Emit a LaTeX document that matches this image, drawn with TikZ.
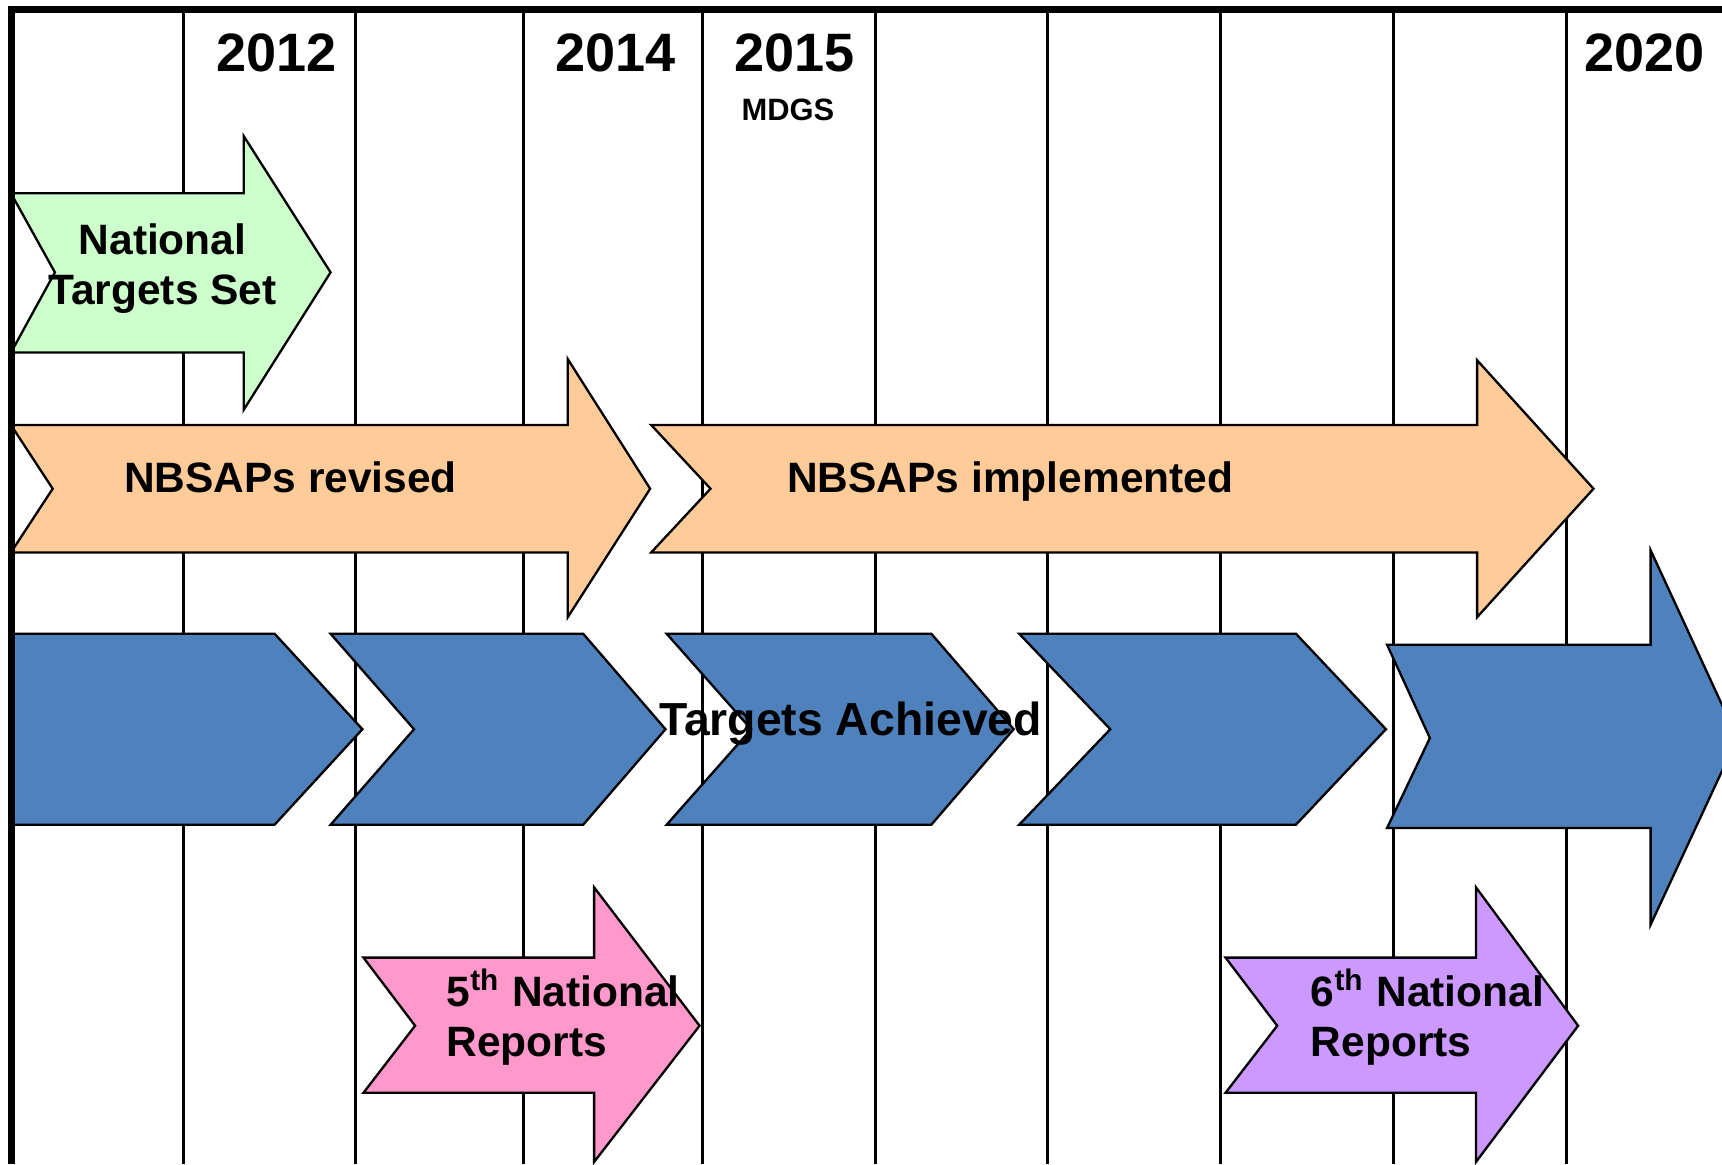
\documentclass[tikz,border=0pt]{standalone}
\usepackage{fontspec}
\setmainfont{Liberation Sans}
\definecolor{mintgreen}{HTML}{CCFFCC}
\definecolor{peach}{HTML}{FFCC99}
\definecolor{chevblue}{HTML}{4F81BD}
\definecolor{reppink}{HTML}{FF99CC}
\definecolor{replilac}{HTML}{CC99FF}
\begin{document}
\begin{tikzpicture}[x=0.01cm, y=-0.01cm,
  gridline/.style={line width=0.75pt},
  block/.style={draw, line width=0.6pt, line join=miter},
  yearlbl/.style={font=\bfseries\fontsize{14}{16.8}\selectfont, inner sep=0pt, anchor=base},
  barlbl/.style={font=\bfseries\fontsize{11}{13.1}\selectfont, inner sep=0pt}]
\path[use as bounding box, clip] (0,0) rectangle (1568,1060);
\fill[white] (0,0) rectangle (1568,1060);
\foreach \x in {167,324,477,640,797,954,1111,1269,1426}
  \draw[gridline] (\x,9) -- (\x,1060);
\node[yearlbl] (y2012) at (251.5,65) {2012};
\node[yearlbl] (y2014) at (560.5,65) {2014};
\node[yearlbl] (y2015) at (723.5,65) {2015};
\node[yearlbl] (y2020) at (1497.5,65) {2020};
\node[yearlbl, font=\bfseries\fontsize{8}{9.6}\selectfont] (mdgs) at (717.5,110) {MDGS};
\draw[block, fill=mintgreen] (10,176) -- (222,176) -- (222,124) -- (301,248) -- (222,373) -- (222,321) -- (10,321) -- (50,248) -- cycle;
\node[barlbl, align=center] (settxt) at (148,244.5) {National\\Targets Set};
\draw[block, fill=peach] (10,387) -- (517,387) -- (517,327) -- (592,445) -- (517,562) -- (517,503) -- (10,503) -- (48,445) -- cycle;
\draw[block, fill=peach] (593,387) -- (1345,387) -- (1345,328) -- (1451,445) -- (1345,562) -- (1345,503) -- (593,503) -- (647,445) -- cycle;
\node[barlbl, anchor=base] (revtxt) at (264.5,448) {NBSAPs revised};
\node[barlbl, anchor=base] (impltxt) at (920,448) {NBSAPs implemented};
\draw[block, fill=chevblue] (10,577) -- (250,577) -- (330,664) -- (250,751) -- (10,751) -- cycle;
\draw[block, fill=chevblue] (301,577) -- (531,577) -- (606,664) -- (531,751) -- (301,751) -- (377,664) -- cycle;
\draw[block, fill=chevblue] (607,577) -- (848,577) -- (923,664) -- (848,751) -- (607,751) -- (684,664) -- cycle;
\draw[block, fill=chevblue] (928,577) -- (1180,577) -- (1262,664) -- (1180,751) -- (928,751) -- (1011,664) -- cycle;
\draw[block, fill=chevblue] (1263,587) -- (1503,587) -- (1503,501) -- (1582,672) -- (1503,842) -- (1503,754) -- (1263,754) -- (1302,672) -- cycle;
\node[barlbl, anchor=base, font=\bfseries\fontsize{12}{14.4}\selectfont] (achtxt) at (774.5,670) {Targets Achieved};
\draw[block, fill=reppink] (331,872) -- (541,872) -- (541,808) -- (637,934) -- (541,1058) -- (541,995) -- (331,995) -- (378,934) -- cycle;
\draw[block, fill=replilac] (1116,872) -- (1344,872) -- (1344,808) -- (1437,934) -- (1344,1058) -- (1344,995) -- (1116,995) -- (1163,934) -- cycle;
\node[barlbl, align=left, anchor=west] (rep5txt) at (406,926.5) {5\textsuperscript{th} National\\Reports};
\node[barlbl, align=left, anchor=west] (rep6txt) at (1193,926.5) {6\textsuperscript{th} National\\Reports};
\draw[line width=1.7pt] (10.5,1060) -- (10.5,8.5) -- (1568,8.5);
\end{tikzpicture}
\end{document}
